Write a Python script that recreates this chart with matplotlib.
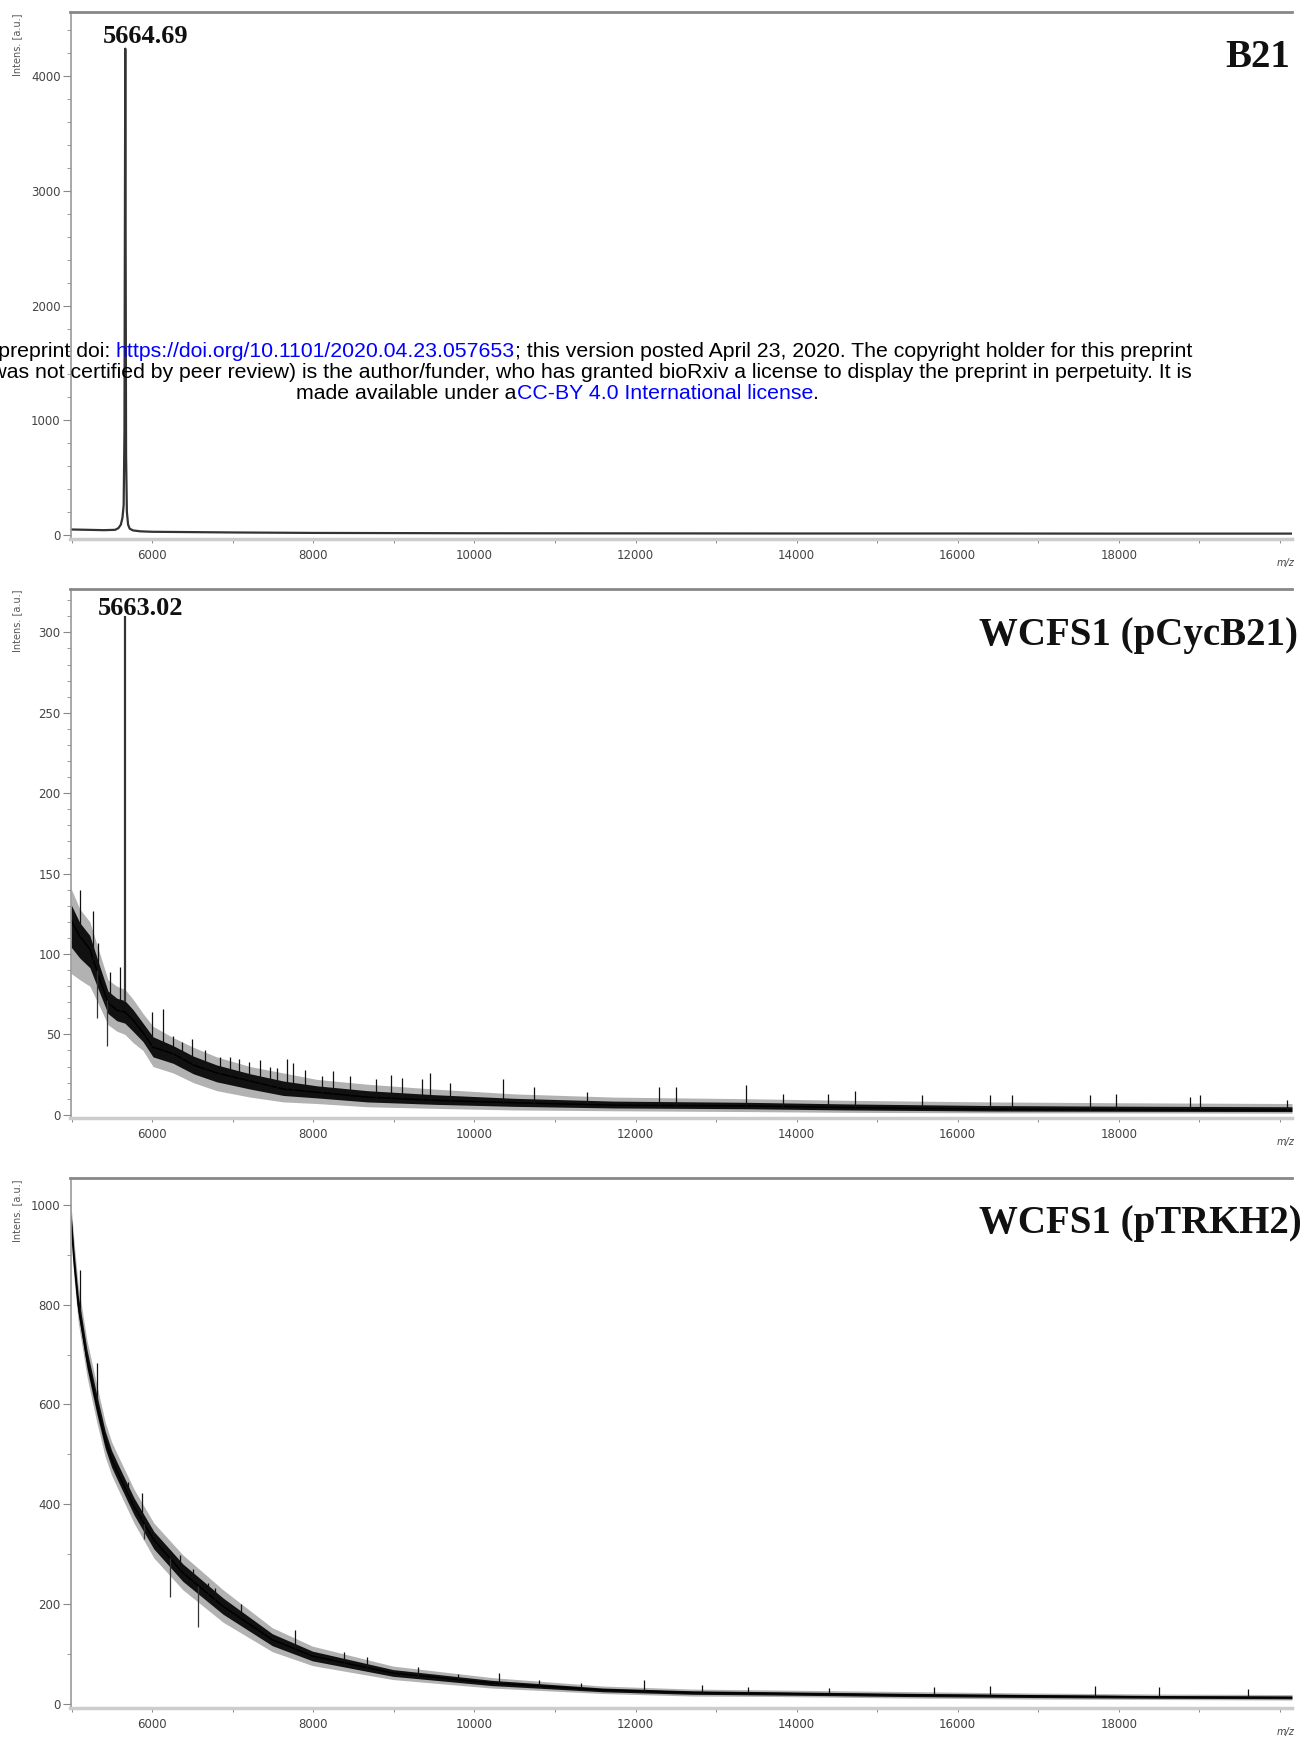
import matplotlib
matplotlib.use('Agg')
import numpy as np
import matplotlib.pyplot as plt
from matplotlib.ticker import FixedLocator, MultipleLocator

# ---- data ----
# B21
B21_MZ = [4990, 5200, 5400, 5540, 5580, 5610, 5630, 5645, 5655, 5660, 5665, 5670, 5675,
          5685, 5700, 5720, 5760, 5850, 6000, 7000, 8000, 10000, 12000, 14000, 16000, 18000, 20150]
B21_INT = [48, 45, 42, 45, 60, 90, 150, 260, 900, 2600, 4240, 2400, 700,
           200, 90, 55, 40, 32, 28, 22, 18, 15, 14, 13, 13, 12, 12]

# WCFS1 (pCycB21): noise band (low / middle / high) and spikes
CYC_MZ = [4990, 5100, 5225, 5350, 5450, 5560, 5660, 5760, 5885, 6010, 6260, 6510, 6800,
          7215, 7630, 8045, 8670, 9500, 10490, 11730, 13390, 14630, 16400, 18000, 20150]
CYC_LO = [88, 84, 80, 67, 56, 52, 50, 45, 40, 30, 26, 20, 15,
          11, 8, 7, 5, 4, 3, 2.5, 2, 1.5, 1.2, 1.2, 1]
CYC_MID = [121, 111, 103, 84, 70, 65, 64, 59, 51, 42, 38, 31, 26,
           21, 16, 14, 11, 9, 7.5, 6, 5.5, 4.5, 3.5, 3.2, 3]
CYC_HI = [141, 128, 120, 100, 84, 80, 78, 72, 63, 55, 48, 42, 36,
          30, 26, 22, 19, 16, 13, 11, 10, 9, 8, 7.5, 7]
CYC_SPIKE_MZ = [5100, 5270, 5330, 5480, 5600, 6000, 6129, 6260, 6370, 6490, 6650, 6840, 6960,
                7080, 7200, 7340, 7460, 7550, 7670, 7750, 7900, 8110, 8250, 8450, 8780,
                8960, 9100, 9350, 9450, 9700, 10350, 10735, 11400, 12290, 12500, 13375, 13830,
                14390, 14720, 15560, 16400, 16670, 17640, 17970, 18880, 19010, 20090]
CYC_SPIKE_TOP = [140, 127, 107, 89, 92, 64, 66, 49, 45, 47, 40, 36, 36,
                 35, 33, 34, 30, 29, 35, 32, 28, 24, 27, 24, 22,
                 25, 23, 22, 26, 20, 22, 17, 14, 17, 17.5, 18.5, 13,
                 13, 14.5, 12.5, 12, 12, 12, 13, 11, 12, 9]
CYC_DIP_MZ = [5440, 5310]
CYC_DIP_LOW = [43, 60]
CYC_PEAK_MZ, CYC_PEAK_BASE, CYC_PEAK_TOP = 5663, 70, 310

# WCFS1 (pTRKH2)
TRK_MZ = [4990, 5030, 5080, 5190, 5310, 5415, 5495, 5575, 5773, 6020, 6380, 6880, 7490, 7990,
          8990, 10215, 11600, 12700, 13770, 15350, 16930, 18500, 20150]
TRK_MID = [975, 885, 800, 690, 600, 529, 490, 462, 395, 328, 262, 195, 128, 95,
           61, 41, 27, 22, 20, 17, 15, 13, 12]
TRK_LO = [935, 850, 765, 655, 565, 495, 458, 430, 362, 292, 228, 163, 104, 76,
          48, 31, 20, 15, 14, 11, 9, 8, 7]
TRK_HI = [1003, 925, 840, 728, 640, 565, 525, 497, 430, 362, 298, 228, 152, 115,
          75, 52, 35, 29, 27, 24, 21, 19, 18]
TRK_SPIKE_MZ = [5100, 5310, 5700, 5870, 6220, 6340, 6500, 6690, 6780, 7100, 7770, 8380, 8660,
                9300, 9800, 10300, 10800, 11320, 12100, 12830, 13400, 14400, 15700, 16400,
                17700, 18500, 19600]
TRK_SPIKE_TOP = [870, 683, 445, 422, 308, 298, 270, 241, 232, 200, 148, 104, 93,
                 73, 60, 61, 48, 41, 48, 37, 33, 32, 34, 35, 36, 33, 30]
TRK_DIP_MZ = [6220, 6570, 5900]
TRK_DIP_LOW = [214, 154, 330]

X_MAJOR = [6000, 8000, 10000, 12000, 14000, 16000, 18000]
X_MINOR = [5000, 7000, 9000, 11000, 13000, 15000, 17000, 19000, 20000]

W, H = 1307, 1741
fig = plt.figure(figsize=(W / 100, H / 100), dpi=100)


def px_axes(top, bottom):
    return fig.add_axes([70.5 / W, 1 - bottom / H, (1292 - 70.5) / W, (bottom - top) / H])


def style(ax, ylim, ymaj, ymin):
    ax.set_xlim(4985, 20150)
    ax.set_ylim(*ylim)
    ax.xaxis.set_major_locator(FixedLocator(X_MAJOR))
    ax.xaxis.set_minor_locator(FixedLocator(X_MINOR))
    ax.yaxis.set_major_locator(MultipleLocator(ymaj))
    ax.yaxis.set_minor_locator(MultipleLocator(ymin))
    ax.spines['right'].set_visible(False)
    ax.spines['left'].set_color('#999999')
    ax.spines['left'].set_linewidth(1.2)
    ax.spines['top'].set_color('#888888')
    ax.spines['top'].set_linewidth(2)
    ax.spines['bottom'].set_color('#cccccc')
    ax.spines['bottom'].set_linewidth(2.5)
    ax.tick_params(axis='y', which='major', length=5.5, width=0.8, color='#888888',
                   pad=1.5, labelsize=8.5, labelcolor='#444444')
    ax.tick_params(axis='y', which='minor', length=3, width=0.7, color='#999999')
    ax.tick_params(axis='x', which='both', length=3, width=0.7, color='#888888',
                   pad=4, labelsize=8.5, labelcolor='#444444')
    for lab in ax.get_xticklabels() + ax.get_yticklabels():
        lab.set_family('DejaVu Sans')


def band(ax, mz, lo, mid, hi):
    lo, mid, hi = np.array(lo), np.array(mid), np.array(hi)
    ax.fill_between(mz, lo, hi, color='#666666', alpha=0.5, lw=0)
    ax.fill_between(mz, (lo + mid) / 2, (hi + mid) / 2, color='#111111', lw=0)
    ax.plot(mz, mid, color='black', lw=1.1)


def spikes(ax, mz, mid, smz, stop, dmz, dlow):
    ax.vlines(smz, np.interp(smz, mz, mid), stop, color='#111111', lw=0.9)
    ax.vlines(dmz, dlow, np.interp(dmz, mz, mid), color='#333333', lw=0.9)


# panel 1
ax1 = px_axes(12, 539)
ax1.plot(B21_MZ, B21_INT, color='#333333', lw=1.6)
style(ax1, (-35, 4560), 1000, 200)

# panel 2
ax2 = px_axes(589, 1118)
band(ax2, CYC_MZ, CYC_LO, CYC_MID, CYC_HI)
spikes(ax2, CYC_MZ, CYC_MID, CYC_SPIKE_MZ, CYC_SPIKE_TOP, CYC_DIP_MZ, CYC_DIP_LOW)
ax2.vlines(CYC_PEAK_MZ, CYC_PEAK_BASE, CYC_PEAK_TOP, color='#333333', lw=1.6)
style(ax2, (-2, 327), 50, 10)

# panel 3
ax3 = px_axes(1178, 1708)
band(ax3, TRK_MZ, TRK_LO, TRK_MID, TRK_HI)
spikes(ax3, TRK_MZ, TRK_MID, TRK_SPIKE_MZ, TRK_SPIKE_TOP, TRK_DIP_MZ, TRK_DIP_LOW)
style(ax3, (-9, 1054), 200, 100)


def ftext(x, y, s, **kw):
    return fig.text(x / W, 1 - y / H, s, **kw)


serif = dict(family='Liberation Serif', weight='bold', color='#111111')
ftext(1290, 67, 'B21', ha='right', va='baseline', fontsize=28, **serif)
ftext(1298, 645, 'WCFS1 (pCycB21)', ha='right', va='baseline', fontsize=28, **serif)
ftext(1302, 1233, 'WCFS1 (pTRKH2)', ha='right', va='baseline', fontsize=28, **serif)
ftext(145.5, 43, '5664.69', ha='center', va='baseline', fontsize=19, **serif)
ftext(140.5, 615, '5663.02', ha='center', va='baseline', fontsize=19, **serif)

for top, bottom in [(12, 539), (589, 1118), (1178, 1708)]:
    ftext(17, top + 1, 'Intens. [a.u.]', rotation=90, ha='center', va='top',
          fontsize=7, color='#555555', family='DejaVu Sans')
    ftext(1295, bottom + 24, 'm/z', style='italic', ha='right', va='center',
          fontsize=7, color='#444444', family='DejaVu Sans')

# bioRxiv header stamped over the figure
WM = dict(family='Liberation Sans', fontsize=15.3)
BLUE = '#0000ff'
WM_LINES = [
    (357, [('bioRxiv preprint doi: ', 'black'),
           ('https://doi.org/10.1101/2020.04.23.057653', BLUE),
           ('; this version posted April 23, 2020. The copyright holder for this preprint', 'black')]),
    (378, [('(which was not certified by peer review) is the author/funder, who has granted bioRxiv '
            'a license to display the preprint in perpetuity. It is', 'black')]),
    (399, [('made available under a', 'black'),
           ('CC-BY 4.0 International license', BLUE),
           ('.', 'black')]),
]
fig.canvas.draw()
rend = fig.canvas.get_renderer()


def text_w(s):
    t = fig.text(0, 0, s, **WM)
    w = t.get_window_extent(rend).width
    t.remove()
    return w


cx = 557.5
for y, pieces in WM_LINES:
    full = ''.join(p for p, c in pieces)
    left = cx - text_w(full) / 2
    prefix = ''
    for s, c in pieces:
        x = left if not prefix else left + text_w(prefix + 'x') - text_w('x')
        ftext(x, y, s, color=c, ha='left', va='baseline', **WM)
        prefix += s

fig.savefig('out.png', dpi=100)
